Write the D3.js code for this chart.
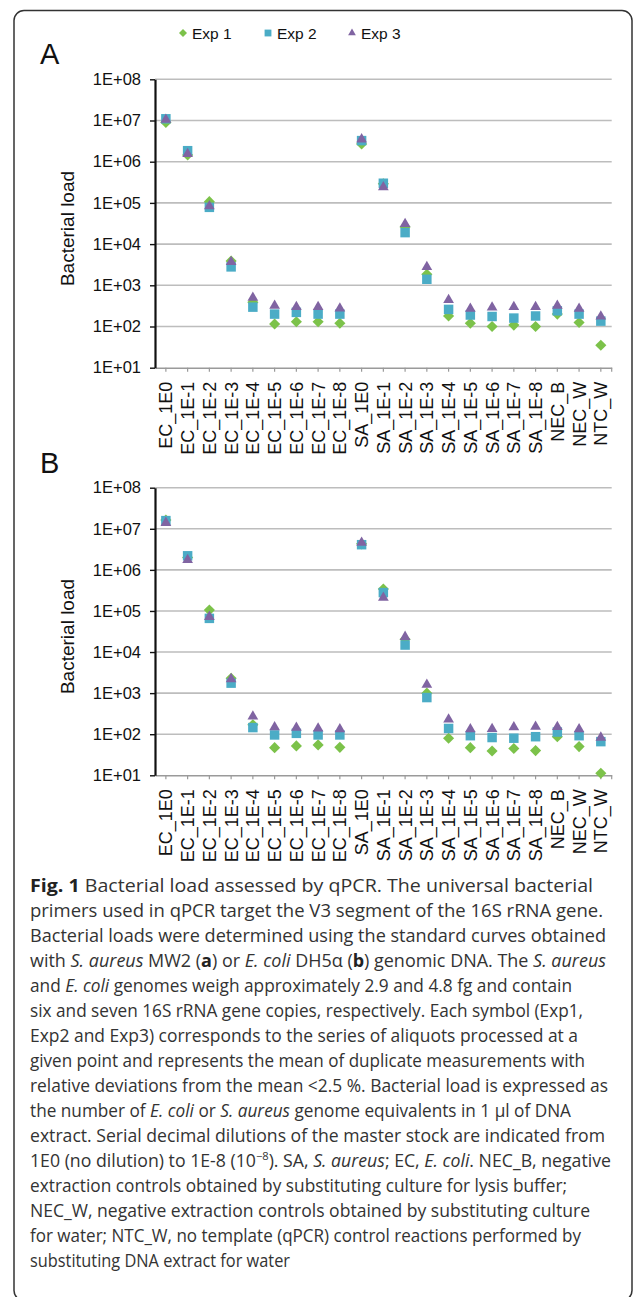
<!DOCTYPE html>
<html>
<head>
<meta charset="utf-8">
<script src="https://cdn.jsdelivr.net/npm/d3@7"></script>
<style>
html,body{margin:0;padding:0;background:#fff;}
svg{display:block;}
</style>
</head>
<body>
<script>
// ---------- DATA ----------
const categories = ["EC_1E0","EC_1E-1","EC_1E-2","EC_1E-3","EC_1E-4","EC_1E-5","EC_1E-6","EC_1E-7","EC_1E-8",
  "SA_1E0","SA_1E-1","SA_1E-2","SA_1E-3","SA_1E-4","SA_1E-5","SA_1E-6","SA_1E-7","SA_1E-8","NEC_B","NEC_W","NTC_W"];
const seriesNames = ["Exp 1","Exp 2","Exp 3"];
const tickValues = [1e1,1e2,1e3,1e4,1e5,1e6,1e7,1e8];
const tickLabels = ["1E+01","1E+02","1E+03","1E+04","1E+05","1E+06","1E+07","1E+08"];

// Panel A
const aExp1 = [9.0e6,1.45e6,1.07e5,3.9e3,390,115,130,130,120,2.7e6,2.9e5,2.6e4,1.85e3,180,120,100,108,100,200,125,35];
const aExp2 = [1.1e7,1.85e6,7.8e4,2.8e3,295,200,220,200,200,3.25e6,3.0e5,1.9e4,1.4e3,260,190,175,160,180,240,200,135];
const aExp3 = [1.05e7,1.55e6,8.3e4,3.7e3,500,320,300,300,275,3.5e6,2.4e5,3.1e4,2.8e3,440,270,290,300,300,320,270,175];
// Panel B
const bExp1 = [1.63e7,2.0e6,1.05e5,2.3e3,170,47,52,55,48,4.3e6,3.4e5,2.05e4,1.0e3,80,47,39,45,40,87,50,11.2];
const bExp2 = [1.58e7,2.2e6,6.6e4,1.75e3,145,96,105,96,96,4.1e6,2.8e5,1.48e4,780,138,92,83,80,87,113,92,66];
const bExp3 = [1.4e7,1.75e6,7.2e4,2.2e3,270,148,145,138,132,4.6e6,2.1e5,2.35e4,1.6e3,230,132,135,148,152,150,132,83];

// ---------- STYLE ----------
const W = 633, H = 1297;
const colors = ["#7cc24a","#4bacc6","#8064a2"];
const font = "'Liberation Sans', Arial, sans-serif";

const svg = d3.select("body").append("svg").attr("width", W).attr("height", H);

// frame
svg.append("rect").attr("x", 14).attr("y", 10.5).attr("width", 618).attr("height", 1290)
  .attr("rx", 10).attr("fill", "none").attr("stroke", "#333").attr("stroke-width", 1.5);

function drawSymbol(g, k, cx, cy, scale) {
  scale = scale || 1;
  if (k === 0) {
    g.append("path").attr("d", d3.symbol().type(d3.symbolSquare).size(62*scale*scale)())
      .attr("transform", `translate(${cx},${cy}) rotate(45)`).attr("fill", colors[0]);
  } else if (k === 1) {
    g.append("path").attr("d", d3.symbol().type(d3.symbolSquare).size(90*scale*scale)())
      .attr("transform", `translate(${cx},${cy})`).attr("fill", colors[1]);
  } else {
    g.append("path").attr("d", d3.symbol().type(d3.symbolTriangle).size(50*scale*scale)())
      .attr("transform", `translate(${cx},${cy})`).attr("fill", colors[2]);
  }
}

// legend
const legendX = [183, 268, 352];
const leg = svg.append("g");
seriesNames.forEach((name, k) => {
  drawSymbol(leg, k, legendX[k], 33, 0.72);
  leg.append("text").attr("x", legendX[k] + 9).attr("y", 33).attr("dy", "0.36em")
    .attr("font-family", font).attr("font-size", 15.5).attr("fill", "#111").text(name);
});

function panel(top, bottom, series, letter, letterY) {
  const left = 155, right = 611.7;
  const y = d3.scaleLog().domain([10, 1e8]).range([bottom, top]);
  const x = d3.scaleBand().domain(categories).range([left, right]);
  const g = svg.append("g");

  g.append("text").attr("x", 40).attr("y", letterY).attr("font-family", font)
    .attr("font-size", 29).attr("fill", "#111").text(letter);

  g.append("g").selectAll("line").data(tickValues.slice(1)).join("line")
    .attr("x1", left).attr("x2", right).attr("y1", d => y(d)).attr("y2", d => y(d))
    .attr("stroke", "#bdbdbd").attr("stroke-width", 1.6);

  const xa = g.append("g").attr("transform", `translate(0,${bottom})`)
    .call(d3.axisBottom(x).tickSize(4).tickSizeOuter(0));
  xa.select(".domain").attr("stroke", "#9a9a9a").attr("stroke-width", 1.6);
  xa.selectAll(".tick line").attr("stroke", "#9a9a9a").attr("stroke-width", 1.2);
  xa.selectAll(".tick text").attr("transform", "rotate(-90)").attr("text-anchor", "end")
    .attr("x", -14).attr("y", 0).attr("dy", "0.36em")
    .attr("font-family", font).attr("font-size", 18).attr("fill", "#111");
  xa.append("line").attr("x1", right).attr("x2", right).attr("y1", 0).attr("y2", 4)
    .attr("stroke", "#9a9a9a").attr("stroke-width", 1.2);

  const ya = g.append("g").attr("transform", `translate(${left},0)`)
    .call(d3.axisLeft(y).tickValues(tickValues).tickFormat((d, i) => tickLabels[i])
      .tickSize(5).tickSizeOuter(0).tickPadding(9));
  ya.select(".domain").attr("stroke", "#111").attr("stroke-width", 2.2);
  ya.selectAll(".tick line").attr("stroke", "#111").attr("stroke-width", 1.4);
  ya.selectAll(".tick text").attr("font-family", font).attr("font-size", 16.5).attr("fill", "#111");

  g.append("text").attr("transform", `translate(67,${(top + bottom) / 2 + 5}) rotate(-90)`)
    .attr("text-anchor", "middle").attr("dy", "0.35em")
    .attr("font-family", font).attr("font-size", 19).attr("fill", "#111").text("Bacterial load");

  const pg = g.append("g");
  series.forEach((vals, k) => {
    vals.forEach((v, i) => {
      drawSymbol(pg, k, x(categories[i]) + x.bandwidth() / 2, y(v), 1);
    });
  });
}

panel(79.3, 367.7, [aExp1, aExp2, aExp3], "A", 64);
panel(487.7, 775.3, [bExp1, bExp2, bExp3], "B", 473);

// caption
const caption = [
  [["Fig. 1","b"],[" Bacterial load assessed by qPCR. The universal bacterial"]],
  [["primers used in qPCR target the V3 segment of the 16S rRNA gene."]],
  [["Bacterial loads were determined using the standard curves obtained"]],
  [["with "],["S. aureus","i"],[" MW2 ("],["a","b"],[") or "],["E. coli","i"],[" DH5α ("],["b","b"],[") genomic DNA. The "],["S. aureus","i"]],
  [["and "],["E. coli","i"],[" genomes weigh approximately 2.9 and 4.8 fg and contain"]],
  [["six and seven 16S rRNA gene copies, respectively. Each symbol (Exp1,"]],
  [["Exp2 and Exp3) corresponds to the series of aliquots processed at a"]],
  [["given point and represents the mean of duplicate measurements with"]],
  [["relative deviations from the mean <2.5 %. Bacterial load is expressed as"]],
  [["the number of "],["E. coli","i"],[" or "],["S. aureus","i"],[" genome equivalents in 1 µl of DNA"]],
  [["extract. Serial decimal dilutions of the master stock are indicated from"]],
  [["1E0 (no dilution) to 1E-8 (10"],["−8","sup"],["). SA, "],["S. aureus","i"],["; EC, "],["E. coli","i"],[". NEC_B, negative"]],
  [["extraction controls obtained by substituting culture for lysis buffer;"]],
  [["NEC_W, negative extraction controls obtained by substituting culture"]],
  [["for water; NTC_W, no template (qPCR) control reactions performed by"]],
  [["substituting DNA extract for water"]]
];
// right end of each caption line in the reference (layout)
const capEnds = [593,603,606,606,572,583,578,585,608,571,605,611,567,590,581,290];
const capG = svg.append("g").attr("font-family", "'Open Sans', 'Noto Sans', sans-serif")
  .attr("fill", "#333").attr("font-size", 17.5);
caption.forEach((segs, li) => {
  const t = capG.append("text").attr("x", 30).attr("y", 892 + li * 25)
    .attr("textLength", capEnds[li] - 30).attr("lengthAdjust", "spacingAndGlyphs");
  let prevSup = false;
  segs.forEach(s => {
    const ts = t.append("tspan").text(s[0]);
    if (s[1] === "b") ts.attr("font-weight", "bold").attr("fill", "#222");
    if (s[1] === "i") ts.attr("font-style", "italic");
    if (s[1] === "sup") { ts.attr("font-size", 11).attr("dy", -7); prevSup = true; }
    else if (prevSup) { ts.attr("dy", 7); prevSup = false; }
  });
});
</script>
</body>
</html>
